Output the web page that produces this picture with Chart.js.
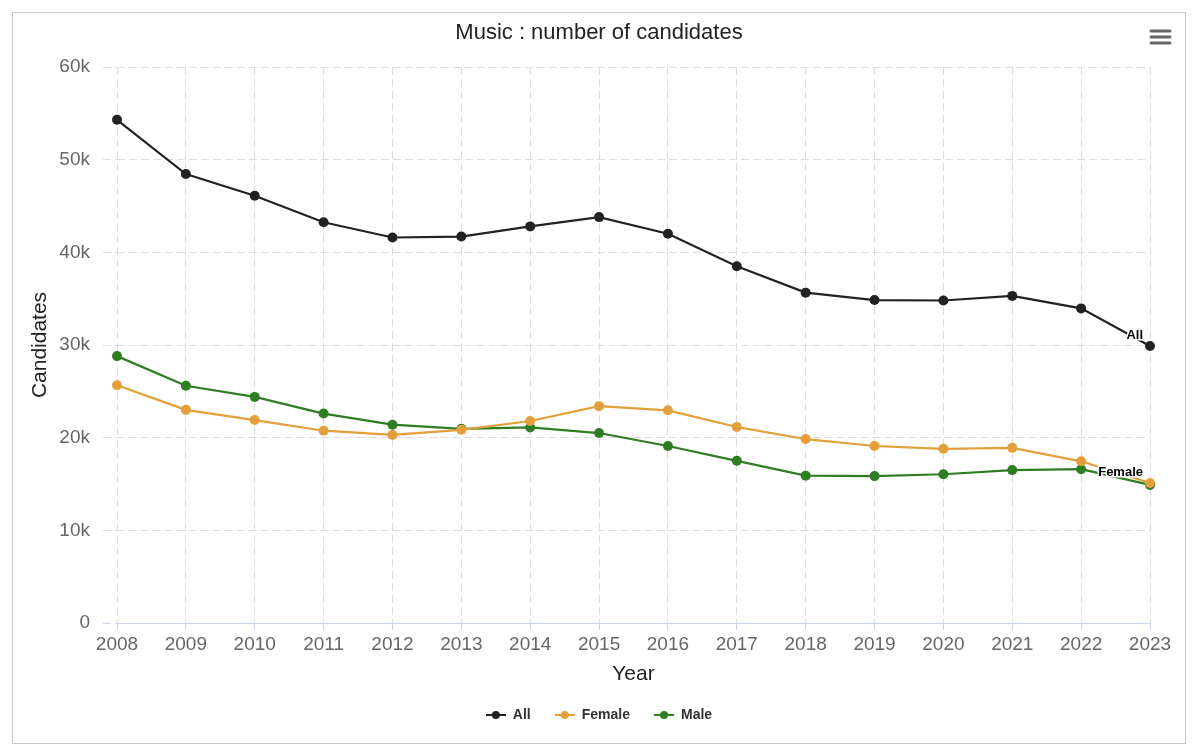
<!DOCTYPE html>
<html>
<head>
<meta charset="utf-8">
<script src="https://cdn.jsdelivr.net/npm/chart.js@4/dist/chart.umd.min.js"></script>
<style>
  html, body { margin: 0; padding: 0; background: #fff; }
  #frame {
    position: absolute; left: 12px; top: 12px;
    width: 1174px; height: 732px;
    box-sizing: border-box; border: 1px solid #c4c8d0;
    background: #fff;
  }
</style>
</head>
<body>
<div id="frame"><canvas id="myChart"></canvas></div>
<script>
var years = ['2008','2009','2010','2011','2012','2013','2014','2015','2016','2017','2018','2019','2020','2021','2022','2023'];
var allCandidates = [54300,48450,46100,43250,41600,41700,42800,43800,42000,38500,35650,34850,34800,35300,33950,29900];
var femaleCandidates = [25650,23000,21900,20750,20300,20850,21800,23400,22950,21150,19850,19100,18800,18900,17450,15100];
var maleCandidates = [28800,25600,24400,22600,21400,20950,21100,20500,19100,17500,15900,15850,16050,16500,16600,14900];
var yTicks = [0,10000,20000,30000,40000,50000,60000];

var colAll = '#222222', colFemale = '#e3a03a', colMale = '#2f7d22';
var gridCol = '#dcdce3', axisCol = '#ccd6eb';

// little line+dot symbols for the legend
function legendIcon(color) {
  var c = document.createElement('canvas');
  c.width = 20; c.height = 10;
  var g = c.getContext('2d');
  g.strokeStyle = color; g.lineWidth = 2;
  g.beginPath(); g.moveTo(0, 5); g.lineTo(20, 5); g.stroke();
  g.fillStyle = color;
  g.beginPath(); g.arc(10, 5, 4, 0, Math.PI * 2); g.fill();
  return c;
}
var icons = [legendIcon(colAll), legendIcon(colFemale), legendIcon(colMale)];

var endLabels = {
  id: 'endLabels',
  afterDatasetsDraw: function(chart) {
    var ctx = chart.ctx;
    [0, 1].forEach(function(i) {
      var meta = chart.getDatasetMeta(i);
      var pt = meta.data[meta.data.length - 1];
      ctx.save();
      ctx.font = 'bold 13px "Liberation Sans", Arial, sans-serif';
      ctx.textAlign = 'right';
      ctx.textBaseline = 'middle';
      ctx.lineJoin = 'round';
      ctx.strokeStyle = '#ffffff';
      ctx.lineWidth = 3;
      ctx.strokeText(chart.data.datasets[i].label, pt.x - 7, pt.y - 11);
      ctx.fillStyle = '#000000';
      ctx.fillText(chart.data.datasets[i].label, pt.x - 7, pt.y - 11);
      ctx.restore();
    });
  }
};

var menuIcon = {
  id: 'menuIcon',
  afterDraw: function(chart) {
    var ctx = chart.ctx, x1 = chart.width - 34, x2 = chart.width - 15;
    ctx.save();
    ctx.strokeStyle = '#666666';
    ctx.lineWidth = 3;
    ctx.lineCap = 'round';
    [18, 24, 30].forEach(function(y) {
      ctx.beginPath(); ctx.moveTo(x1, y); ctx.lineTo(x2, y); ctx.stroke();
    });
    ctx.restore();
  }
};

var ctx = document.getElementById('myChart');

var myChart = new Chart(ctx, {
  type: 'line',
  data: {
    labels: years,
    datasets: [
      { label: 'All', data: allCandidates, borderColor: colAll, backgroundColor: colAll },
      { label: 'Female', data: femaleCandidates, borderColor: colFemale, backgroundColor: colFemale },
      { label: 'Male', data: maleCandidates, borderColor: colMale, backgroundColor: colMale }
    ]
  },
  options: {
    responsive: true,
    maintainAspectRatio: false,
    animation: false,
    layout: { padding: { left: 0, right: 0, top: 0, bottom: 11 } },
    elements: {
      line: { borderWidth: 2.2, tension: 0 },
      point: { radius: 5, hoverRadius: 5, borderWidth: 0 }
    },
    font: { family: '"Liberation Sans", Arial, sans-serif' },
    plugins: {
      title: {
        display: true,
        text: 'Music : number of candidates',
        color: '#222222',
        font: { size: 22, weight: 'normal' },
        padding: { top: 7, bottom: 20.6 }
      },
      legend: {
        position: 'bottom',
        labels: {
          usePointStyle: true,
          pointStyleWidth: 20,
          padding: 24,
          color: '#333333',
          font: { size: 14, weight: 'bold' },
          generateLabels: function(chart) {
            var items = Chart.defaults.plugins.legend.labels.generateLabels(chart);
            items.forEach(function(it, i) { it.pointStyle = icons[i]; });
            return items;
          }
        }
      },
      tooltip: { enabled: false }
    },
    scales: {
      x: {
        afterFit: function(scale) { scale.height = 61; },
        grid: { color: gridCol, tickLength: 7, tickColor: axisCol, tickBorderDash: [] },
        border: { display: true, color: axisCol, width: 1, dash: [8, 4] },
        ticks: { color: '#666666', font: { size: 19 }, padding: 3, maxRotation: 0, autoSkip: false },
        title: { display: true, text: 'Year', color: '#222222', font: { size: 21 }, padding: { top: 0, bottom: -2.5 } }
      },
      y: {
        min: 0,
        max: 60000,
        afterFit: function(scale) { scale.width = 104; },
        afterBuildTicks: function(scale) { scale.ticks = yTicks.map(function(v) { return { value: v }; }); },
        grid: {
          color: function(c) { return c.tick && c.tick.value === 0 ? axisCol : gridCol; },
          tickColor: function(c) { return c.tick && c.tick.value === 0 ? axisCol : gridCol; },
          tickLength: 14,
          tickBorderDash: [8, 4]
        },
        border: { display: false, dash: [8, 4] },
        ticks: {
          color: '#666666', font: { size: 19 }, padding: 13,
          callback: function(v) { return v === 0 ? '0' : (v / 1000) + 'k'; }
        },
        title: { display: true, text: 'Candidates', color: '#222222', font: { size: 21 }, padding: { top: 15, bottom: 0 } }
      },
      yRight: {
        position: 'right',
        display: true,
        afterFit: function(scale) { scale.width = 35; },
        grid: { display: false, drawTicks: false },
        border: { display: false },
        ticks: { display: false }
      }
    }
  },
  plugins: [endLabels, menuIcon]
});
</script>
</body>
</html>
